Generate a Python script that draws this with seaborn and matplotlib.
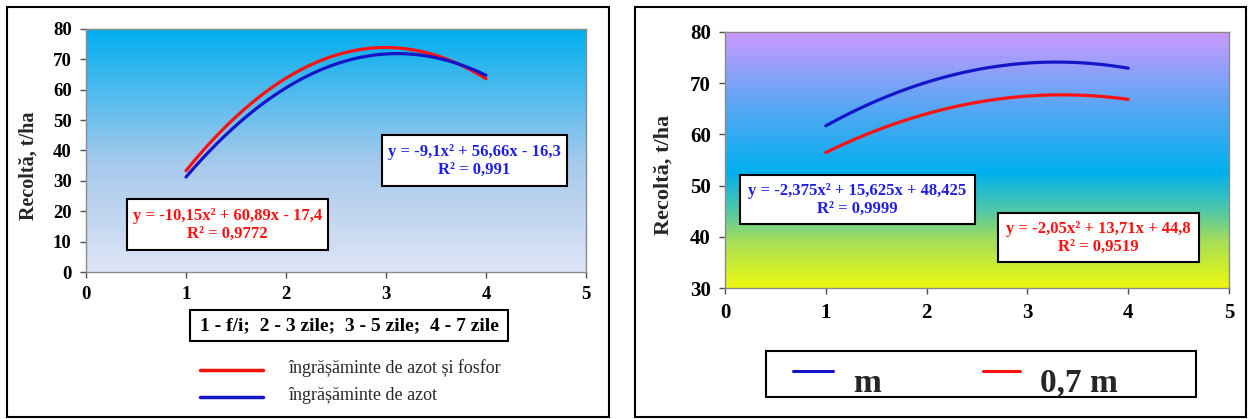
import numpy as np
import matplotlib
matplotlib.use("Agg")
import matplotlib.pyplot as plt
import seaborn as sns
from matplotlib.patches import Rectangle
from matplotlib.lines import Line2D
from matplotlib.colors import LinearSegmentedColormap
from matplotlib.transforms import Affine2D

# ---- data -------------------------------------------------------------
days = [1, 2, 3, 4]                       # 1 - f/i; 2 - 3 zile; 3 - 5 zile; 4 - 7 zile
yield_n_p = [33.34, 63.78, 73.92, 63.60]  # îngrășăminte de azot și fosfor
yield_n = [31.26, 60.62, 71.78, 64.74]    # îngrășăminte de azot

spacing = [1, 2, 3, 4]
yield_m = [61.675, 70.175, 73.925, 72.925]   # m
yield_07m = [56.46, 64.02, 67.48, 66.84]     # 0,7 m

eq_n_p = "y = -10,15x² + 60,89x - 17,4\nR² = 0,9772"
eq_n = "y = -9,1x² + 56,66x - 16,3\nR² = 0,991"
eq_m = "y = -2,375x² + 15,625x + 48,425\nR² = 0,9999"
eq_07m = "y = -2,05x² + 13,71x + 44,8\nR² = 0,9519"

legend_left = ["îngrășăminte de azot și fosfor", "îngrășăminte de azot"]
legend_right = ["m", "0,7 m"]
x_caption = "1 - f/i;  2 - 3 zile;  3 - 5 zile;  4 - 7 zile"
y_title = "Recoltă, t/ha"

RED = "#FF1010"
BLUE = "#1414C8"
EQ_BLUE = "#1E1EE6"

# ---- figure -----------------------------------------------------------
W, H = 1249, 419
sns.set_theme(style="ticks")
plt.rcParams["font.family"] = ["Liberation Serif", "DejaVu Serif"]
fig = plt.figure(figsize=(W / 100, H / 100), dpi=100)
fig.patch.set_facecolor("white")

# pixel coordinates (origin top-left) -> figure
px = Affine2D().scale(1 / W, -1 / H).translate(0, 1) + fig.transFigure


def axes_px(x0, y0, x1, y1):
    return fig.add_axes([x0 / W, 1 - y1 / H, (x1 - x0) / W, (y1 - y0) / H])


def gradient(ax, stops, xlim, ylim):
    cmap = LinearSegmentedColormap.from_list("bg", stops)
    grad = np.linspace(0, 1, 256).reshape(-1, 1)
    ax.imshow(grad, cmap=cmap, origin="lower", extent=(*xlim, *ylim),
              aspect="auto", interpolation="bilinear", zorder=0)


def style_axes(ax, ylim, yticks, size, xpad):
    ax.set_xlim(0, 5)
    ax.set_ylim(*ylim)
    ax.set_xticks(range(0, 6))
    ax.set_yticks(yticks)
    ax.set_xlabel("")
    ax.set_ylabel("")
    ax.tick_params(axis="both", direction="out", length=4.3, width=1,
                   color="#505050", labelcolor="black", labelsize=size)
    ax.tick_params(axis="y", pad=6)
    ax.tick_params(axis="x", pad=xpad)
    for lab in ax.get_xticklabels() + ax.get_yticklabels():
        lab.set_fontweight("bold")
        lab.set_fontsize(size)
    for s in ax.spines.values():
        s.set_visible(True)
        s.set_color("#8A8A8A")
        s.set_linewidth(1)


def boxed_text(x0, y0, x1, y1, text, color, size, weight="bold"):
    fig.add_artist(Rectangle((x0, y0), x1 - x0, y1 - y0, transform=px,
                             facecolor="white", edgecolor="black", lw=1.5, zorder=5))
    fig.text((x0 + x1) / 2, (y0 + y1) / 2, text, transform=px, ha="center",
             va="center", multialignment="center", color=color, fontsize=size,
             fontweight=weight, linespacing=1.15, zorder=6)


# panel frames
fig.add_artist(Rectangle((7, 7), 602, 410, transform=px, fill=False,
                         edgecolor="black", lw=1.5))
fig.add_artist(Rectangle((635, 7), 611, 410, transform=px, fill=False,
                         edgecolor="black", lw=1.5))

# ---- left panel -------------------------------------------------------
axL = axes_px(86, 29, 586, 272)
gradient(axL, [(0, "#DEE4F5"), (0.45, "#A6C9EC"), (1, "#00AEEF")], (0, 5), (0, 80))
sns.regplot(x=days, y=yield_n_p, order=2, ci=None, scatter=False, truncate=True,
            line_kws=dict(color=RED, lw=2.3), ax=axL)
sns.regplot(x=days, y=yield_n, order=2, ci=None, scatter=False, truncate=True,
            line_kws=dict(color=BLUE, lw=2.3), ax=axL)
style_axes(axL, (0, 80), range(0, 90, 10), 13.5, 6)
fig.text(29, 166, y_title, transform=px, rotation=90, ha="center", va="center",
         fontsize=14.5, fontweight="bold")

boxed_text(127, 199, 328, 250, eq_n_p, RED, 12)
boxed_text(382, 135, 567, 186, eq_n, EQ_BLUE, 12)
boxed_text(190, 310, 508, 341, x_caption, "black", 14)

for yy, col, lab in zip([370, 397], [RED, BLUE], legend_left):
    fig.add_artist(Line2D([200, 263], [yy, yy], transform=px, color=col, lw=2.5))
    fig.text(288, yy - 2, lab, transform=px, ha="left", va="center", fontsize=13)

# ---- right panel ------------------------------------------------------
axR = axes_px(725, 32, 1229, 288)
gradient(axR, [(0, "#EEF80E"), (0.18, "#A6DE58"), (0.3, "#50C8A8"),
               (0.45, "#00B0EE"), (0.72, "#5EA6F4"), (1, "#CC99FF")],
         (0, 5), (30, 80))
sns.regplot(x=spacing, y=yield_m, order=2, ci=None, scatter=False, truncate=True,
            line_kws=dict(color=BLUE, lw=2.3), ax=axR)
sns.regplot(x=spacing, y=yield_07m, order=2, ci=None, scatter=False, truncate=True,
            line_kws=dict(color=RED, lw=2.3), ax=axR)
style_axes(axR, (30, 80), range(30, 90, 10), 15, 6.5)
fig.text(664, 175, y_title, transform=px, rotation=90, ha="center", va="center",
         fontsize=16, fontweight="bold")

boxed_text(740, 175, 975, 224, eq_m, EQ_BLUE, 12)
boxed_text(998, 213, 1199, 262, eq_07m, RED, 12)

fig.add_artist(Rectangle((766, 351), 430, 46, transform=px, facecolor="white",
                         edgecolor="black", lw=1.5))
for (xa, xb, xt), col, lab in zip([(793, 833, 853), (983, 1020, 1040)],
                                  [BLUE, RED], legend_right):
    fig.add_artist(Line2D([xa, xb], [371, 371], transform=px, color=col, lw=2.2))
    fig.text(xt, 392, lab, transform=px, ha="left", va="baseline",
             fontsize=24, fontweight="bold")

fig.savefig("out.png", dpi=100, facecolor="white")
